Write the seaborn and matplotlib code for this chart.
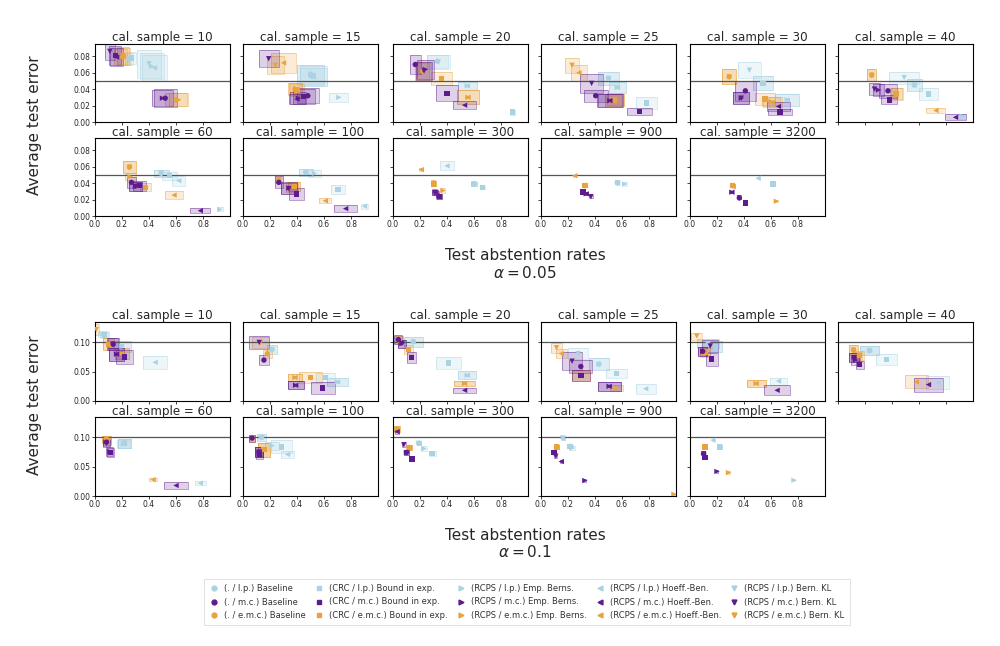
import numpy as np
import pandas as pd
import seaborn as sns
import matplotlib.pyplot as plt
from matplotlib.patches import Rectangle
from matplotlib.lines import Line2D

cal_sizes = [10, 15, 20, 25, 30, 40, 60, 100, 300, 900, 3200]

# series order: Baseline, Bound in exp., Emp. Berns., Hoeff.-Ben., Bern. KL  x  (l.p., m.c., e.m.c.)
series_keys = ["lB", "mB", "eB", "lC", "mC", "eC", "lE", "mE", "eE",
               "lH", "mH", "eH", "lK", "mK", "eK"]
series_labels = ["(. / l.p.) Baseline", "(. / m.c.) Baseline", "(. / e.m.c.) Baseline",
                 "(CRC / l.p.) Bound in exp.", "(CRC / m.c.) Bound in exp.", "(CRC / e.m.c.) Bound in exp.",
                 "(RCPS / l.p.) Emp. Berns.", "(RCPS / m.c.) Emp. Berns.", "(RCPS / e.m.c.) Emp. Berns.",
                 "(RCPS / l.p.) Hoeff.-Ben.", "(RCPS / m.c.) Hoeff.-Ben.", "(RCPS / e.m.c.) Hoeff.-Ben.",
                 "(RCPS / l.p.) Bern. KL", "(RCPS / m.c.) Bern. KL", "(RCPS / e.m.c.) Bern. KL"]

# each entry: (abstention rate, test error, half box width, half box height)
# alpha = 0.05
a05_n10 = [(0.25, 0.077, 0.03, 0.007), (0.52, 0.029, 0.085, 0.011), (0.60, 0.027, 0.08, 0.008),
           (0.27, 0.078, 0.03, 0.007), (0.15, 0.081, 0.045, 0.011), (0.21, 0.080, 0.05, 0.01),
           (0.42, 0.068, 0.09, 0.016), (0.50, 0.029, 0.08, 0.01), (0.62, 0.027, 0.07, 0.008),
           (0.44, 0.066, 0.09, 0.016), (0.16, 0.079, 0.05, 0.011), (0.19, 0.079, 0.05, 0.01),
           (0.40, 0.071, 0.09, 0.017), (0.11, 0.086, 0.035, 0.01), (0.21, 0.081, 0.045, 0.01)]
a05_n15 = [(0.50, 0.057, 0.1, 0.012), (0.48, 0.032, 0.08, 0.009), (0.385, 0.040, 0.055, 0.007),
           (0.52, 0.056, 0.1, 0.012), (0.45, 0.031, 0.08, 0.009), (0.40, 0.039, 0.055, 0.007),
           (0.71, 0.030, 0.07, 0.0055), (0.41, 0.029, 0.06, 0.007), (0.39, 0.041, 0.05, 0.007),
           (0.52, 0.055, 0.1, 0.011), (0.40, 0.028, 0.06, 0.0065), (0.30, 0.072, 0.09, 0.0125),
           (0.50, 0.058, 0.1, 0.012), (0.19, 0.077, 0.075, 0.0105), (0.24, 0.069, 0.06, 0.011)]
a05_n20 = [(0.33, 0.074, 0.08, 0.008), (0.165, 0.070, 0.04, 0.011), (0.22, 0.062, 0.05, 0.011),
           (0.885, 0.012, 0.02, 0.003), (0.40, 0.035, 0.085, 0.0095), (0.36, 0.053, 0.08, 0.0085),
           (0.55, 0.044, 0.07, 0.005), (0.24, 0.064, 0.06, 0.012), (0.555, 0.030, 0.08, 0.0085),
           (0.55, 0.044, 0.07, 0.005), (0.53, 0.0205, 0.085, 0.005), (0.555, 0.030, 0.08, 0.0085),
           (0.335, 0.073, 0.085, 0.0085), (0.23, 0.062, 0.06, 0.011), (0.225, 0.061, 0.06, 0.011)]
a05_n25 = [(0.50, 0.053, 0.075, 0.008), (0.405, 0.032, 0.09, 0.0075), (0.545, 0.027, 0.07, 0.007),
           (0.78, 0.023, 0.08, 0.007), (0.73, 0.0125, 0.09, 0.0045), (0.545, 0.027, 0.07, 0.007),
           (0.565, 0.042, 0.065, 0.007), (0.51, 0.026, 0.09, 0.0075), (0.55, 0.028, 0.06, 0.007),
           (0.565, 0.042, 0.065, 0.007), (0.51, 0.026, 0.095, 0.0075), (0.28, 0.060, 0.06, 0.0095),
           (0.50, 0.053, 0.075, 0.008), (0.375, 0.047, 0.085, 0.012), (0.23, 0.069, 0.055, 0.009)]
a05_n30 = [(0.54, 0.047, 0.075, 0.0085), (0.41, 0.038, 0.08, 0.0125), (0.29, 0.055, 0.05, 0.009),
           (0.54, 0.047, 0.075, 0.0085), (0.667, 0.012, 0.09, 0.004), (0.555, 0.028, 0.075, 0.007),
           (0.72, 0.027, 0.09, 0.007), (0.38, 0.029, 0.06, 0.007), (0.60, 0.025, 0.07, 0.006),
           (0.72, 0.027, 0.09, 0.007), (0.655, 0.019, 0.085, 0.0055), (0.61, 0.024, 0.07, 0.006),
           (0.44, 0.063, 0.085, 0.0095), (0.38, 0.029, 0.06, 0.007), (0.29, 0.055, 0.05, 0.009)]
a05_n40 = [(0.565, 0.045, 0.055, 0.0075), (0.37, 0.038, 0.065, 0.0085), (0.25, 0.057, 0.035, 0.0075),
           (0.67, 0.034, 0.07, 0.007), (0.38, 0.027, 0.06, 0.0055), (0.435, 0.034, 0.045, 0.007),
           (0.92, 0.007, 0.03, 0.003), (0.30, 0.039, 0.04, 0.007), (0.43, 0.035, 0.045, 0.007),
           (0.565, 0.045, 0.055, 0.0075), (0.87, 0.0057, 0.08, 0.0037), (0.725, 0.014, 0.07, 0.0035),
           (0.49, 0.054, 0.11, 0.0075), (0.27, 0.040, 0.04, 0.0075), (0.25, 0.057, 0.035, 0.0075)]
a05_n60 = [(0.49, 0.052, 0.055, 0.0045), (0.27, 0.041, 0.035, 0.007), (0.255, 0.0595, 0.045, 0.0075),
           (0.55, 0.049, 0.055, 0.005), (0.33, 0.037, 0.05, 0.006), (0.375, 0.035, 0.04, 0.005),
           (0.925, 0.008, 0.025, 0.0025), (0.30, 0.036, 0.05, 0.006), (0.26, 0.048, 0.04, 0.004),
           (0.62, 0.043, 0.05, 0.006), (0.78, 0.0065, 0.075, 0.003), (0.585, 0.0255, 0.065, 0.0045),
           (0.49, 0.052, 0.055, 0.0045), (0.30, 0.036, 0.05, 0.006), (0.255, 0.0595, 0.045, 0.0075)]
a05_n100 = [(0.465, 0.053, 0.05, 0.0045), (0.265, 0.041, 0.03, 0.0075), (0.265, 0.045, 0.03, 0.005),
            (0.705, 0.032, 0.05, 0.0055), (0.395, 0.027, 0.055, 0.007), (0.38, 0.036, 0.045, 0.006),
            (0.53, 0.052, 0.05, 0.0045), (0.34, 0.034, 0.06, 0.007), (0.36, 0.035, 0.045, 0.006),
            (0.90, 0.012, 0.025, 0.003), (0.76, 0.009, 0.085, 0.004), (0.61, 0.0185, 0.045, 0.003),
            (0.465, 0.053, 0.05, 0.0045), (0.34, 0.0335, 0.06, 0.007), (0.38, 0.036, 0.045, 0.006)]
a05_n300 = [(0.60, 0.039, 0.02, 0.002), (0.34, 0.024, 0.02, 0.003), (0.30, 0.040, 0.015, 0.003),
            (0.665, 0.035, 0.02, 0.002), (0.345, 0.024, 0.02, 0.003), (0.30, 0.039, 0.015, 0.003),
            (0.60, 0.039, 0.02, 0.002), (0.32, 0.028, 0.02, 0.003), (0.37, 0.031, 0.015, 0.003),
            (0.40, 0.061, 0.05, 0.0055), (0.31, 0.029, 0.02, 0.003), (0.21, 0.0565, 0.015, 0.002),
            (0.60, 0.039, 0.02, 0.002), (0.31, 0.029, 0.02, 0.003), (0.30, 0.040, 0.015, 0.003)]
a05_n900 = [(0.565, 0.0405, 0.015, 0.002), (0.31, 0.029, 0.015, 0.002), (0.325, 0.037, 0.012, 0.002),
            (0.565, 0.0405, 0.015, 0.002), (0.31, 0.029, 0.015, 0.002), (0.325, 0.037, 0.012, 0.002),
            (0.62, 0.039, 0.015, 0.002), (0.335, 0.027, 0.015, 0.002), (0.325, 0.037, 0.012, 0.002),
            (0.565, 0.0405, 0.015, 0.002), (0.335, 0.027, 0.015, 0.002), (0.25, 0.049, 0.01, 0.0015),
            (0.57, 0.040, 0.015, 0.002), (0.37, 0.0235, 0.012, 0.002), (0.325, 0.037, 0.012, 0.002)]
a05_n3200 = [(0.615, 0.039, 0.012, 0.0015), (0.365, 0.022, 0.01, 0.0015), (0.315, 0.037, 0.01, 0.0015),
             (0.615, 0.039, 0.012, 0.0015), (0.41, 0.016, 0.01, 0.0015), (0.315, 0.037, 0.01, 0.0015),
             (0.62, 0.039, 0.012, 0.0015), (0.31, 0.029, 0.01, 0.0015), (0.64, 0.018, 0.01, 0.0015),
             (0.505, 0.046, 0.01, 0.0015), (0.31, 0.029, 0.01, 0.0015), (0.32, 0.036, 0.01, 0.0015),
             (0.615, 0.039, 0.012, 0.0015), (0.365, 0.022, 0.01, 0.0015), (0.315, 0.037, 0.01, 0.0015)]

# alpha = 0.1
a10_n10 = [(0.06, 0.114, 0.035, 0.005), (0.135, 0.097, 0.04, 0.01), (0.10, 0.097, 0.04, 0.01),
           (0.07, 0.113, 0.035, 0.005), (0.22, 0.0755, 0.065, 0.012), (0.10, 0.097, 0.04, 0.01),
           (0.20, 0.093, 0.07, 0.01), (0.16, 0.080, 0.055, 0.011), (0.20, 0.081, 0.055, 0.01),
           (0.445, 0.066, 0.09, 0.0115), (0.16, 0.080, 0.055, 0.011), (0.20, 0.081, 0.055, 0.01),
           (0.20, 0.093, 0.07, 0.01), (0.13, 0.097, 0.04, 0.01), (0.01, 0.122, 0.02, 0.01)]
a10_n15 = [(0.215, 0.088, 0.04, 0.007), (0.155, 0.070, 0.04, 0.009), (0.18, 0.081, 0.035, 0.007),
           (0.61, 0.040, 0.07, 0.0075), (0.59, 0.0223, 0.09, 0.01), (0.50, 0.040, 0.085, 0.01),
           (0.70, 0.0326, 0.075, 0.0075), (0.39, 0.027, 0.06, 0.007), (0.385, 0.040, 0.055, 0.0065),
           (0.70, 0.0326, 0.075, 0.0075), (0.39, 0.0269, 0.06, 0.007), (0.385, 0.040, 0.055, 0.0065),
           (0.215, 0.088, 0.04, 0.007), (0.12, 0.100, 0.075, 0.0115), (0.13, 0.100, 0.06, 0.01)]
a10_n20 = [(0.15, 0.101, 0.07, 0.009), (0.04, 0.105, 0.03, 0.007), (0.045, 0.104, 0.03, 0.007),
           (0.41, 0.065, 0.09, 0.01), (0.135, 0.074, 0.035, 0.009), (0.115, 0.088, 0.035, 0.008),
           (0.55, 0.044, 0.065, 0.007), (0.066, 0.098, 0.03, 0.007), (0.53, 0.030, 0.075, 0.0045),
           (0.55, 0.044, 0.065, 0.007), (0.53, 0.0183, 0.085, 0.0045), (0.53, 0.030, 0.075, 0.0045),
           (0.15, 0.101, 0.07, 0.009), (0.066, 0.098, 0.03, 0.007), (0.045, 0.104, 0.03, 0.007)]
a10_n25 = [(0.43, 0.063, 0.075, 0.01), (0.295, 0.059, 0.085, 0.0115), (0.295, 0.044, 0.065, 0.0095),
           (0.56, 0.047, 0.075, 0.008), (0.295, 0.044, 0.065, 0.0095), (0.295, 0.044, 0.065, 0.0095),
           (0.43, 0.063, 0.075, 0.01), (0.505, 0.0251, 0.085, 0.0075), (0.56, 0.022, 0.05, 0.005),
           (0.775, 0.021, 0.075, 0.0085), (0.505, 0.0251, 0.085, 0.0075), (0.15, 0.081, 0.04, 0.008),
           (0.275, 0.081, 0.075, 0.01), (0.23, 0.068, 0.075, 0.015), (0.115, 0.091, 0.04, 0.0085)]
a10_n30 = [(0.19, 0.093, 0.05, 0.009), (0.094, 0.085, 0.035, 0.008), (0.11, 0.085, 0.035, 0.008),
           (0.19, 0.093, 0.05, 0.009), (0.16, 0.0715, 0.045, 0.011), (0.11, 0.084, 0.035, 0.008),
           (0.135, 0.098, 0.08, 0.008), (0.094, 0.085, 0.035, 0.008), (0.49, 0.030, 0.07, 0.0065),
           (0.655, 0.034, 0.065, 0.006), (0.645, 0.0183, 0.095, 0.0085), (0.49, 0.030, 0.07, 0.0065),
           (0.135, 0.098, 0.08, 0.008), (0.15, 0.094, 0.06, 0.01), (0.05, 0.111, 0.04, 0.006)]
a10_n40 = [(0.235, 0.086, 0.07, 0.008), (0.12, 0.074, 0.035, 0.008), (0.115, 0.087, 0.035, 0.008),
           (0.36, 0.071, 0.075, 0.009), (0.16, 0.062, 0.03, 0.007), (0.16, 0.078, 0.035, 0.008),
           (0.235, 0.086, 0.07, 0.008), (0.13, 0.070, 0.035, 0.008), (0.14, 0.075, 0.035, 0.008),
           (0.74, 0.031, 0.085, 0.011), (0.67, 0.028, 0.11, 0.012), (0.58, 0.0326, 0.085, 0.011),
           (0.235, 0.086, 0.07, 0.008), (0.12, 0.074, 0.035, 0.008), (0.115, 0.087, 0.035, 0.008)]
a10_n60 = [(0.22, 0.090, 0.05, 0.0075), (0.085, 0.092, 0.025, 0.006), (0.085, 0.097, 0.03, 0.006),
           (0.22, 0.090, 0.05, 0.0075), (0.116, 0.0745, 0.025, 0.007), (0.09, 0.094, 0.03, 0.006),
           (0.21, 0.089, 0.05, 0.0075), (0.11, 0.076, 0.025, 0.007), (0.09, 0.094, 0.03, 0.006),
           (0.78, 0.022, 0.04, 0.003), (0.60, 0.018, 0.09, 0.0055), (0.43, 0.028, 0.03, 0.0025),
           (0.22, 0.090, 0.05, 0.0075), (0.085, 0.090, 0.025, 0.006), (0.085, 0.097, 0.03, 0.006)]
a10_n100 = [(0.137, 0.100, 0.035, 0.006), (0.067, 0.099, 0.025, 0.006), (0.067, 0.099, 0.025, 0.006),
            (0.286, 0.084, 0.08, 0.011), (0.12, 0.071, 0.025, 0.008), (0.155, 0.079, 0.045, 0.012),
            (0.216, 0.086, 0.05, 0.007), (0.12, 0.075, 0.03, 0.009), (0.155, 0.079, 0.045, 0.012),
            (0.33, 0.071, 0.05, 0.006), (0.12, 0.075, 0.03, 0.009), (0.155, 0.079, 0.045, 0.012),
            (0.137, 0.100, 0.035, 0.006), (0.12, 0.075, 0.03, 0.009), (0.067, 0.099, 0.025, 0.006)]
a10_n300 = [(0.19, 0.090, 0.015, 0.0035), (0.10, 0.0745, 0.015, 0.004), (0.12, 0.083, 0.02, 0.005),
            (0.29, 0.073, 0.025, 0.004), (0.14, 0.063, 0.015, 0.004), (0.12, 0.083, 0.02, 0.005),
            (0.23, 0.081, 0.02, 0.004), (0.10, 0.0745, 0.015, 0.004), (0.12, 0.083, 0.02, 0.005),
            (0.19, 0.090, 0.015, 0.0035), (0.03, 0.110, 0.015, 0.004), (0.03, 0.114, 0.02, 0.005),
            (0.19, 0.090, 0.015, 0.0035), (0.08, 0.0875, 0.015, 0.004), (0.03, 0.114, 0.02, 0.005)]
a10_n900 = [(0.215, 0.085, 0.02, 0.003), (0.096, 0.074, 0.012, 0.003), (0.115, 0.084, 0.015, 0.003),
            (0.215, 0.085, 0.02, 0.003), (0.096, 0.074, 0.012, 0.003), (0.115, 0.084, 0.015, 0.003),
            (0.23, 0.082, 0.02, 0.003), (0.325, 0.0265, 0.012, 0.002), (0.985, 0.003, 0.01, 0.002),
            (0.16, 0.099, 0.015, 0.003), (0.15, 0.059, 0.012, 0.003), (0.115, 0.084, 0.015, 0.003),
            (0.16, 0.099, 0.015, 0.003), (0.11, 0.068, 0.012, 0.003), (0.115, 0.084, 0.015, 0.003)]
a10_n3200 = [(0.22, 0.084, 0.015, 0.003), (0.10, 0.072, 0.01, 0.003), (0.11, 0.084, 0.012, 0.003),
             (0.22, 0.084, 0.015, 0.003), (0.11, 0.066, 0.01, 0.003), (0.11, 0.084, 0.012, 0.003),
             (0.77, 0.027, 0.01, 0.002), (0.20, 0.042, 0.01, 0.002), (0.285, 0.040, 0.01, 0.002),
             (0.17, 0.0955, 0.01, 0.002), (0.10, 0.072, 0.01, 0.003), (0.11, 0.084, 0.012, 0.003),
             (0.22, 0.084, 0.015, 0.003), (0.10, 0.072, 0.01, 0.003), (0.11, 0.084, 0.012, 0.003)]

a05_panels = [a05_n10, a05_n15, a05_n20, a05_n25, a05_n30, a05_n40,
              a05_n60, a05_n100, a05_n300, a05_n900, a05_n3200]
a10_panels = [a10_n10, a10_n15, a10_n20, a10_n25, a10_n30, a10_n40,
              a10_n60, a10_n100, a10_n300, a10_n900, a10_n3200]

col_lp, col_mc, col_emc = "#a9d2e3", "#5e1b8f", "#e8a23e"
palette = {}
markers = {}
for k in series_keys:
    palette[k] = {"l": col_lp, "m": col_mc, "e": col_emc}[k[0]]
    markers[k] = {"B": "o", "C": "s", "E": ">", "H": "<", "K": "v"}[k[1]]

sns.set_style("white")
plt.rcParams["font.family"] = ["DejaVu Sans"]

fig = plt.figure(figsize=(10, 6.46), dpi=100)
W, H = 1000, 646
col_left = [95, 243, 393, 541, 690, 838]
panel_w = 135


def draw_block(panels, row_tops, panel_h, ylim, yticks, alpha):
    for i, pts in enumerate(panels):
        r, c = divmod(i, 6)
        top = row_tops[r]
        ax = fig.add_axes([col_left[c] / W, 1 - (top + panel_h) / H, panel_w / W, panel_h / H])
        df = pd.DataFrame(pts, columns=["x", "y", "dx", "dy"])
        df["series"] = series_keys
        # light ones first, then orange, purple on top
        order = [j for j in range(15) if series_keys[j][0] == "l"] + \
                [j for j in range(15) if series_keys[j][0] == "e"] + \
                [j for j in range(15) if series_keys[j][0] == "m"]
        for j in order:
            row = df.iloc[j]
            col = palette[row["series"]]
            ax.add_patch(Rectangle((row["x"] - row["dx"], row["y"] - row["dy"]),
                                   2 * row["dx"], 2 * row["dy"], facecolor=col,
                                   alpha=0.2, edgecolor="none", zorder=1))
            ax.add_patch(Rectangle((row["x"] - row["dx"], row["y"] - row["dy"]),
                                   2 * row["dx"], 2 * row["dy"], facecolor="none",
                                   edgecolor=col, alpha=0.5, lw=0.6, zorder=1))
        sns.scatterplot(data=df.iloc[order], x="x", y="y", hue="series", style="series",
                        palette=palette, markers=markers, s=15, linewidth=0,
                        legend=False, ax=ax, zorder=3)
        ax.axhline(alpha, color="#555555", lw=0.9, zorder=2)
        ax.set_xlim(0, 1)
        ax.set_ylim(*ylim)
        ax.set_xticks([0.0, 0.2, 0.4, 0.6, 0.8])
        ax.set_yticks(yticks)
        ax.set_xlabel("")
        ax.set_ylabel("")
        ax.set_title(f"cal. sample = {cal_sizes[i]}", fontsize=8.6, pad=1.5)
        ax.tick_params(axis="both", labelsize=5.5, length=2, width=0.6, pad=1,
                       direction="out", bottom=True, left=True)
        if c != 0:
            ax.tick_params(labelleft=False)
        else:
            ax.set_yticklabels([f"{t:.2f}" for t in yticks])
        if r == 0:
            ax.tick_params(labelbottom=False)
        else:
            ax.set_xticklabels([f"{t:.1f}" for t in [0.0, 0.2, 0.4, 0.6, 0.8]])
        for sp in ax.spines.values():
            sp.set_color("black")
            sp.set_linewidth(0.8)


draw_block(a05_panels, [44, 138], 78, (0, 0.095), [0.0, 0.02, 0.04, 0.06, 0.08], 0.05)
draw_block(a10_panels, [322, 417], 79, (0, 0.135), [0.0, 0.05, 0.10], 0.1)

fig.text(35 / W, 1 - 125 / H, "Average test error", rotation=90, ha="center", va="center", fontsize=11)
fig.text(35 / W, 1 - 405 / H, "Average test error", rotation=90, ha="center", va="center", fontsize=11)
fig.text(525 / W, 1 - 255 / H, "Test abstention rates", ha="center", va="center", fontsize=11)
fig.text(525 / W, 1 - 273 / H, r"$\alpha = 0.05$", ha="center", va="center", fontsize=11)
fig.text(525 / W, 1 - 535 / H, "Test abstention rates", ha="center", va="center", fontsize=11)
fig.text(525 / W, 1 - 552 / H, r"$\alpha = 0.1$", ha="center", va="center", fontsize=11)

handles = [Line2D([], [], ls="", marker=markers[k], color=palette[k], markersize=3.5)
           for k in series_keys]
leg = fig.legend(handles, series_labels, ncol=5, loc="center",
                 bbox_to_anchor=(527 / W, 1 - 602 / H), fontsize=6.0, frameon=True,
                 columnspacing=1.1, handlelength=1.0, handletextpad=0.7, labelspacing=0.5,
                 borderpad=0.6, fancybox=False)
for t in leg.get_texts():
    t.set_color("#333333")
leg.get_frame().set_linewidth(0.5)
leg.get_frame().set_edgecolor("#cccccc")

fig.savefig("out.png", dpi=100)
